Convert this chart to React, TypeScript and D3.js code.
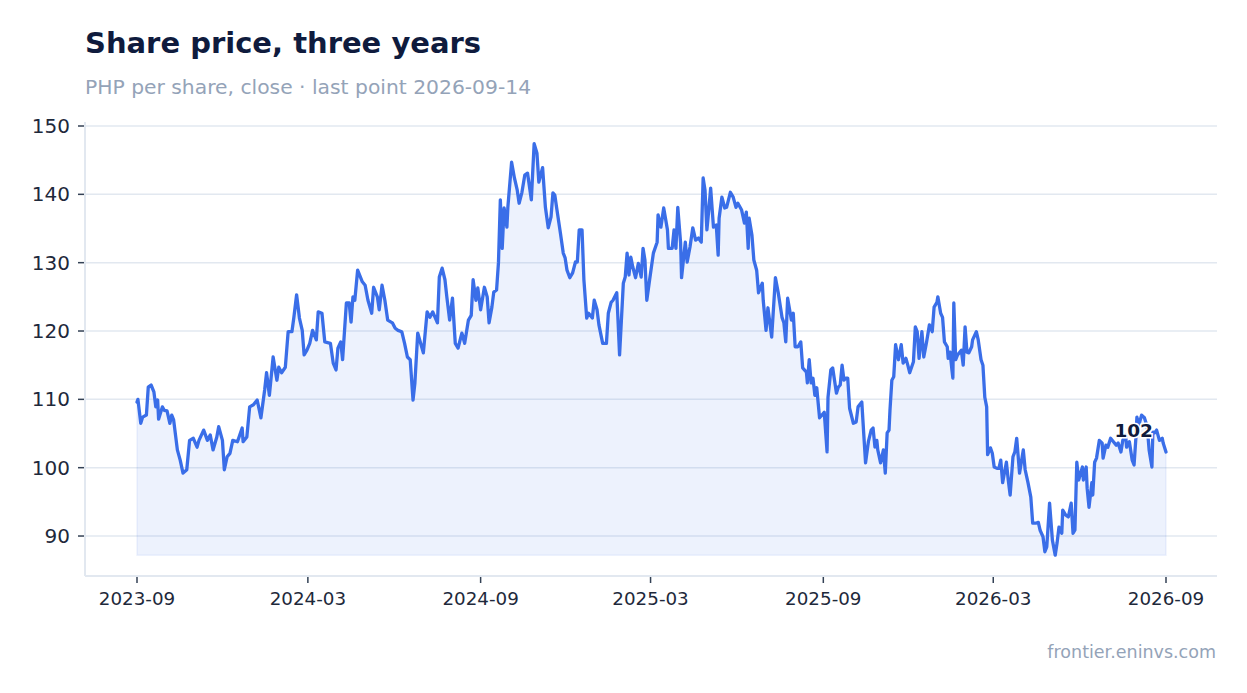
import React from "react";
import * as d3 from "d3";

const chartTitle = "Share price, three years";
const chartSubtitle = "PHP per share, close · last point 2026-09-14";
const sourceNote = "frontier.eninvs.com";
const startDate = "2023-09-14";
const endDate = "2026-09-14";
const yTickValues = [90, 100, 110, 120, 130, 140, 150];
const xTickMonthSteps = [0, 6, 12, 18, 24, 30, 36];

// days since startDate
const dayOffsets = [
  0, 1, 4, 6, 10, 12, 15, 18, 20, 22, 23, 27, 29, 32, 35, 37, 39, 43, 46, 49, 53, 56, 60, 64, 66, 71, 75, 78, 81, 85, 87, 91, 93, 96, 99, 102, 107, 112, 113, 117, 120, 124, 128,
  132, 136, 138, 141, 145, 149, 151, 154, 158, 161, 165, 167, 170, 173, 176, 178, 181, 184, 187, 191, 193, 197, 200, 206, 209, 212, 214, 217, 219, 223, 226, 228, 230, 232, 235, 240, 243, 246, 250, 252, 256, 258, 261, 264, 267, 272, 275, 278, 282, 285, 288, 291, 294, 296, 299, 305,
  309, 312, 315, 320, 322, 325, 328, 330, 333, 336, 339, 342, 346, 349, 353, 356, 358, 361, 363, 366, 370, 373, 375, 378, 380, 383, 385, 387, 389, 391, 394, 395, 399, 402, 405, 407, 410, 413, 416, 420, 423, 426, 428, 432, 435, 438, 441, 443, 445, 447, 451, 454, 456, 458, 461, 464, 467, 469, 471, 474, 476, 479, 481, 485, 487, 490, 492,
  496, 500, 502, 505, 507, 511, 514, 518, 520, 522, 524, 526, 528, 531, 534, 537, 539, 541, 543, 546, 550, 554, 555, 558, 561, 565, 566, 570, 572, 574, 576, 579, 580, 584, 586, 589, 592, 595, 598, 601, 603, 605, 607, 609, 611, 614, 617, 619, 620, 623, 626, 628, 632, 635, 638, 640, 644, 647, 649, 651, 652, 655, 657, 660, 662, 666, 667, 670, 672,
  676, 680, 683, 687, 689, 691, 693, 697, 699, 701, 704, 707, 709, 713, 714, 716, 718, 720, 722, 724, 727, 732, 735, 736, 739, 741, 745, 747, 749, 751, 753, 755, 757, 759, 763, 766, 768, 772, 774, 776, 779, 782, 784, 786, 788, 789, 792, 795, 797, 799, 801, 802, 804, 806, 808, 811, 814, 816, 819, 821, 823, 827, 829, 831, 833, 836, 838, 841, 844, 847, 849, 852, 853,
  856, 858, 860, 863, 864, 866, 868, 869, 870, 872, 874, 878, 880, 882, 884, 886, 889, 890, 894, 896, 899, 901, 903, 905, 906, 909, 911, 913, 916, 918, 920, 922, 926, 928, 930, 933, 935, 937, 940, 944, 946, 949, 952, 954, 958, 960,
  962, 965, 967, 969, 972, 975, 978, 980, 982, 985, 986, 989, 992, 995, 997, 999, 1001, 1003, 1007, 1008, 1011, 1012, 1014, 1017, 1018, 1020, 1022, 1025, 1028, 1029, 1032, 1034, 1037, 1040, 1043, 1045, 1048, 1050, 1053, 1054, 1057, 1060, 1062, 1064, 1065, 1067, 1070, 1073, 1076, 1078, 1081, 1082, 1084, 1086, 1089, 1092, 1093, 1096,
];

const closes = [
  109.6, 110.0, 106.5, 107.4, 107.7, 111.8, 112.1, 111.1, 108.9, 109.9, 107.1, 108.9, 108.4, 108.3, 106.5, 107.7, 107.0, 102.6, 101.1, 99.2, 99.7, 104.0, 104.3, 103.0, 104.0, 105.5, 104.0, 104.8, 102.6, 104.5, 106.0, 104.0, 99.7, 101.6, 102.1, 104.0, 103.8, 105.8, 103.8, 104.5, 108.9, 109.2, 109.9,
  107.3, 111.4, 113.9, 110.6, 116.2, 112.8, 114.7, 113.9, 114.7, 119.9, 119.9, 121.9, 125.3, 121.9, 120.1, 116.5, 117.2, 118.2, 120.1, 118.7, 122.8, 122.6, 118.4, 118.2, 115.3, 114.3, 117.5, 118.4, 115.8, 124.1, 124.1, 121.3, 125.0, 124.5, 128.9, 127.2, 126.7, 124.5, 122.6, 126.4, 125.0, 123.1, 126.7, 124.5, 121.6, 121.2, 120.4, 120.1, 119.9, 118.2, 116.2, 115.8, 109.9, 112.4, 119.7, 116.8,
  122.8, 122.0, 122.8, 121.2, 127.9, 129.2, 127.5, 125.0, 121.6, 124.8, 118.2, 117.5, 119.7, 118.2, 121.6, 122.3, 127.5, 124.5, 126.3, 123.1, 126.4, 125.0, 121.2, 123.5, 125.7, 126.0, 130.0, 139.2, 132.1, 138.0, 135.2, 138.1, 144.7, 142.4, 140.6, 138.7, 140.3, 142.8, 143.1, 139.2, 147.4, 146.0, 141.8, 143.9, 138.1, 135.1, 136.7, 140.2, 139.9, 138.0, 134.3, 131.4, 130.7, 128.9, 127.8, 128.5, 130.1, 130.1, 134.8, 134.8, 127.5, 121.9, 122.6, 121.9, 124.5, 123.1, 120.9,
  118.2, 118.2, 122.6, 124.2, 124.5, 125.6, 116.5, 127.0, 127.9, 131.4, 128.2, 130.8, 129.4, 127.8, 129.9, 127.9, 132.1, 130.4, 124.5, 127.5, 131.4, 133.0, 137.0, 135.2, 138.0, 134.8, 132.1, 132.1, 134.8, 132.1, 138.1, 132.9, 127.8, 133.0, 130.1, 132.3, 135.1, 133.3, 133.6, 133.0, 142.4, 140.6, 134.8, 137.7, 140.9, 135.2, 135.5, 131.1, 136.5, 139.6, 138.0, 138.1, 140.3, 139.6, 138.1, 138.7, 137.7, 135.8, 137.4, 132.1, 136.5, 134.0, 130.4, 128.9, 125.6, 127.0, 124.5, 120.1, 123.4,
  119.1, 127.8, 125.6, 122.0, 121.2, 118.4, 124.8, 121.6, 122.6, 117.7, 117.7, 118.4, 114.6, 114.0, 112.4, 115.8, 112.4, 113.1, 110.6, 111.7, 107.3, 108.1, 102.3, 110.3, 114.3, 114.6, 110.9, 111.8, 112.1, 115.0, 112.8, 113.1, 113.1, 108.7, 106.5, 106.7, 108.9, 109.6, 105.1, 100.7, 103.8, 105.5, 105.8, 103.0, 104.0, 102.6, 100.7, 102.6, 99.2, 105.1, 105.5, 108.4, 112.8, 113.3, 118.0, 115.8, 118.0, 115.3, 116.0, 115.0, 113.9, 115.5, 120.6, 119.9, 116.0, 119.9, 116.2, 118.4, 120.9, 119.9, 123.5, 124.2, 125.0,
  122.6, 122.0, 118.4, 117.7, 116.0, 116.9, 114.3, 113.1, 124.1, 115.8, 116.5, 117.2, 115.0, 120.6, 116.9, 116.8, 117.7, 118.7, 119.9, 118.7, 115.8, 115.0, 110.3, 108.9, 101.9, 102.9, 102.1, 100.1, 99.9, 99.9, 101.1, 97.8, 100.8, 98.2, 96.0, 101.6, 102.3, 104.3, 99.2, 102.6, 99.7, 97.8, 95.7, 91.9, 91.9, 92.0,
  90.8, 89.9, 87.7, 88.4, 94.8, 89.4, 87.2, 89.0, 91.3, 90.4, 93.8, 93.1, 92.8, 94.8, 90.4, 90.9, 100.8, 98.2, 100.1, 98.2, 100.1, 97.0, 94.2, 97.8, 96.0, 100.8, 101.4, 104.0, 103.6, 101.4, 103.3, 103.0, 104.3, 103.8, 103.3, 103.6, 102.3, 104.0, 104.8, 103.0, 103.8, 101.1, 100.4, 104.5, 107.4, 106.2, 107.7, 107.3, 106.0, 102.6, 100.1, 105.2, 105.1, 105.5, 104.0, 104.3, 103.6, 102.3,
];

const FONT = "'DejaVu Sans', Verdana, sans-serif";

export default function App() {
  const W = 1247;
  const H = 693;
  const plot = { left: 85, right: 1217, top: 126, bottom: 576 };
  const padX = 52;

  const parse = d3.utcParse("%Y-%m-%d");
  const start = parse(startDate) as Date;
  const end = parse(endDate) as Date;
  const data = dayOffsets.map((d, i) => ({ date: d3.utcDay.offset(start, d), v: closes[i] }));

  const x = d3.scaleUtc().domain([start, end]).range([plot.left + padX, plot.right - padX + 1]);
  const y = d3.scaleLinear().domain([84.15, 150]).range([plot.bottom, plot.top]);

  const minV = d3.min(closes) as number;
  const line = d3
    .line<{ date: Date; v: number }>()
    .x((d) => x(d.date))
    .y((d) => y(d.v));
  const area = d3
    .area<{ date: Date; v: number }>()
    .x((d) => x(d.date))
    .y0(y(minV))
    .y1((d) => y(d.v));

  const xTicks = xTickMonthSteps.map((m) => d3.utcMonth.offset(start, m));
  const fmt = d3.utcFormat("%Y-%m");
  const last = data[data.length - 1];

  return (
    <svg
      width={W}
      height={H}
      viewBox={`0 0 ${W} ${H}`}
      style={{ position: "absolute", left: 0, top: 0, display: "block", background: "#fff" }}
      fontFamily={FONT}
    >
      <text x={85} y={53} fontSize={29} fontWeight="bold" fill="#0f1b3d">
        {chartTitle}
      </text>
      <text x={85} y={94} fontSize={20.3} fill="#94a3b8">
        {chartSubtitle}
      </text>

      {/* gridlines */}
      {yTickValues.map((t) => (
        <line key={t} x1={plot.left} x2={plot.right} y1={y(t)} y2={y(t)} stroke="#e2e8f0" strokeWidth={1.5} />
      ))}

      {/* area */}
      <path d={area(data) || ""} fill="#3a6ee8" fillOpacity={0.09} stroke="#3a6ee8" strokeOpacity={0.08} strokeWidth={1.5} />
      <path d={line(data) || ""} fill="none" stroke="#3a6ee8" strokeWidth={3.3} strokeLinejoin="round" strokeLinecap="round" />

      {/* axes */}
      <line x1={plot.left} x2={plot.left} y1={plot.top - 4} y2={plot.bottom} stroke="#e2e8f0" strokeWidth={2} />
      <line x1={plot.left} x2={plot.right} y1={plot.bottom} y2={plot.bottom} stroke="#e2e8f0" strokeWidth={2} />
      {yTickValues.map((t) => (
        <g key={"yt" + t}>
          <line x1={plot.left - 7} x2={plot.left - 1} y1={y(t)} y2={y(t)} stroke="#334155" strokeWidth={1.5} />
          <text x={plot.left - 15} y={y(t)} dy="0.35em" textAnchor="end" fontSize={20} fill="#1e293b">
            {t}
          </text>
        </g>
      ))}
      {xTicks.map((t, i) => (
        <g key={"xt" + i}>
          <line x1={x(t)} x2={x(t)} y1={plot.bottom + 1} y2={plot.bottom + 7} stroke="#334155" strokeWidth={1.5} />
          <text x={x(t)} y={605} textAnchor="middle" fontSize={18.3} fill="#1e293b">
            {fmt(t)}
          </text>
        </g>
      ))}

      {/* last value label */}
      <text
        x={x(last.date) - 13}
        y={y(last.v) - 15}
        textAnchor="end"
        fontSize={18.5}
        fontWeight="bold"
        fill="#0f1b3d"
        stroke="#ffffff"
        strokeWidth={3}
        paintOrder="stroke"
      >
        {Math.round(last.v)}
      </text>

      <text x={1216} y={658} textAnchor="end" fontSize={17.5} fill="#94a3b8">
        {sourceNote}
      </text>
    </svg>
  );
}
